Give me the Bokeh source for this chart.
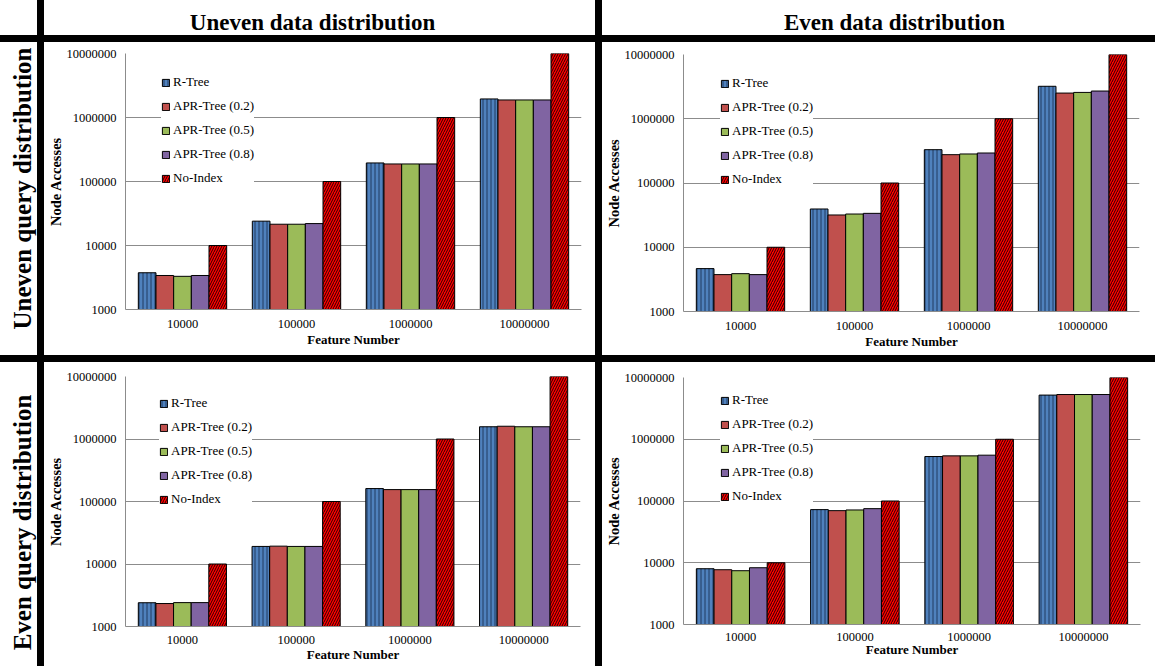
from bokeh.plotting import figure
from bokeh.models import (ColumnDataSource, FactorRange, Range1d, FixedTicker,
                          NumeralTickFormatter, Legend, LegendItem, Label, GridBox)
from bokeh.transform import dodge
from bokeh.embed import file_html
from bokeh.resources import INLINE

# ---------------- data ----------------
categories = ["10000", "100000", "1000000", "10000000"]
series_names = ["R-Tree", "APR-Tree (0.2)", "APR-Tree (0.5)", "APR-Tree (0.8)", "No-Index"]
col_headers = ["Uneven data distribution", "Even data distribution"]
row_headers = ["Uneven query distribution", "Even query distribution"]
y_ticks = [1000, 10000, 100000, 1000000, 10000000]

no_index = [10000, 100000, 1000000, 10000000]

# uneven data / uneven query
uu_rtree = [3750, 24000, 195000, 1950000]
uu_apr02 = [3400, 21500, 188000, 1880000]
uu_apr05 = [3300, 21500, 188000, 1880000]
uu_apr08 = [3400, 22000, 188000, 1880000]

# even data / uneven query
eu_rtree = [4650, 39400, 330000, 3200000]
eu_apr02 = [3750, 31800, 276000, 2510000]
eu_apr05 = [3880, 32900, 283000, 2570000]
eu_apr08 = [3750, 33700, 293000, 2700000]

# uneven data / even query
ue_rtree = [2400, 19100, 161000, 1570000]
ue_apr02 = [2330, 19300, 155000, 1600000]
ue_apr05 = [2410, 19100, 155000, 1570000]
ue_apr08 = [2410, 19100, 155000, 1570000]

# even data / even query
ee_rtree = [8000, 72500, 525000, 5190000]
ee_apr02 = [7710, 69800, 538000, 5300000]
ee_apr05 = [7430, 71600, 538000, 5300000]
ee_apr08 = [8300, 75200, 552000, 5300000]

# ---------------- styles ----------------
FONT = "Liberation Serif"
STY = [
    dict(fill_color="#4F81BD", hatch_pattern="vertical_line", hatch_color="#1F3A60",
         hatch_scale=4, hatch_weight=1),
    dict(fill_color="#C0504D"),
    dict(fill_color="#9BBB59"),
    dict(fill_color="#8064A2"),
    dict(fill_color="#FF0000", hatch_pattern="right_diagonal_line", hatch_color="#2a0000",
         hatch_scale=5, hatch_weight=1),
]
OFFSETS = [-0.31, -0.155, 0.0, 0.155, 0.31]
GRID_COL = "#8c8c8c"


def make_panel(w, h, left, right, top, bottom, vals, legend_loc, tick_standoff, label_standoff):
    p = figure(width=w, height=h, x_range=FactorRange(*categories),
               y_range=Range1d(1000, 10000000), y_axis_type="log",
               output_backend="svg", toolbar_location=None, frame_align=False,
               min_border_left=left, min_border_right=right,
               min_border_top=top, min_border_bottom=bottom,
               background_fill_color="white", border_fill_color="white",
               outline_line_color=None,
               styles={"outline": "1px solid #a6a6a6", "outline-offset": "-2px",
                       "background-color": "white"})
    data = dict(cat=categories)
    for i, v in enumerate(vals):
        data["s%d" % i] = v
    src = ColumnDataSource(data)
    rends = []
    for i, (off, sty) in enumerate(zip(OFFSETS, STY)):
        r = p.vbar(x=dodge("cat", off, range=p.x_range), top="s%d" % i, bottom=1000,
                   width=0.155, source=src, line_color="black", line_width=1, **sty)
        rends.append(r)

    p.yaxis.ticker = FixedTicker(ticks=y_ticks, minor_ticks=[])
    p.yaxis.formatter = NumeralTickFormatter(format="0")
    for ax in (p.xaxis[0], p.yaxis[0]):
        ax.major_tick_line_color = None
        ax.minor_tick_line_color = None
        ax.major_tick_out = 0
        ax.major_tick_in = 0
        ax.minor_tick_out = 0
        ax.minor_tick_in = 0
        ax.axis_line_color = GRID_COL
        ax.major_label_text_font = FONT
        ax.major_label_text_font_size = "12.5px"
        ax.major_label_text_color = "black"
        ax.axis_label_text_font = FONT
        ax.axis_label_text_font_style = "bold"
        ax.axis_label_text_color = "black"
    p.yaxis.axis_label = "Node Accesses"
    p.yaxis.axis_label_text_font_size = "14.5px"
    p.yaxis.major_label_standoff = 9
    p.yaxis.axis_label_standoff = 0
    p.xaxis.axis_label = "Feature Number"
    p.xaxis.axis_label_text_font_size = "13px"
    p.xaxis.major_label_standoff = tick_standoff
    p.xaxis.axis_label_standoff = label_standoff

    p.ygrid.grid_line_color = GRID_COL
    p.xgrid.grid_line_color = None

    items = [LegendItem(label=n, renderers=[r]) for n, r in zip(series_names, rends)]
    leg = Legend(items=items, location=legend_loc, background_fill_color="white",
                 background_fill_alpha=1.0, border_line_color=None,
                 label_text_font=FONT, label_text_font_size="13px", label_text_color="black",
                 glyph_width=9, glyph_height=9, label_height=16, spacing=8,
                 padding=12, margin=0, label_standoff=3)
    p.add_layout(leg)
    return p


def text_cell(w, h, text=None, x=0, y=0, angle=0.0, size="23px"):
    f = figure(width=w, height=h, x_range=Range1d(0, w), y_range=Range1d(0, h),
               output_backend="svg", toolbar_location=None, min_border=0,
               frame_align=False,
               x_axis_location=None, y_axis_location=None, outline_line_color=None,
               background_fill_color="white", border_fill_color="white",
               styles={"background-color": "white"})
    f.grid.visible = False
    if text:
        f.add_layout(Label(x=x, y=y, text=text, angle=angle, text_align="center",
                           text_baseline="middle", text_font=FONT, text_font_style="bold",
                           text_font_size=size, text_color="black"))
    return f


W0, W1, W2 = 37, 551, 553
H0, H1, H2 = 35, 313, 304

corner = text_cell(W0, H0)
h1 = text_cell(W1, H0, col_headers[0], 268, 13)
h2 = text_cell(W2, H0, col_headers[1], 292, 13)
r1 = text_cell(W0, H1, row_headers[0], 22, 167, angle=1.5708, size="25px")
r2 = text_cell(W0, H2, row_headers[1], 22, 144, angle=1.5708, size="25px")

p11 = make_panel(W1, H1, 78, 14, 11, 46,
                 [uu_rtree, uu_apr02, uu_apr05, uu_apr08, no_index], (36, 123), 10, 1)
p12 = make_panel(W2, H1, 78, 16, 12, 44,
                 [eu_rtree, eu_apr02, eu_apr05, eu_apr08, no_index], (37, 124), 10, 1)
p21 = make_panel(W1, H2, 78, 15, 14, 40,
                 [ue_rtree, ue_apr02, ue_apr05, ue_apr08, no_index], (34, 119), 9, 0)
p22 = make_panel(W2, H2, 78, 15, 15, 42,
                 [ee_rtree, ee_apr02, ee_apr05, ee_apr08, no_index], (37, 120), 8, -2)

grid = GridBox(children=[(corner, 0, 0), (h1, 0, 1), (h2, 0, 2),
                         (r1, 1, 0), (p11, 1, 1), (p12, 1, 2),
                         (r2, 2, 0), (p21, 2, 1), (p22, 2, 2)],
               spacing=7, styles={"background-color": "black"})

open("out.html", "w").write(file_html(grid, INLINE))
